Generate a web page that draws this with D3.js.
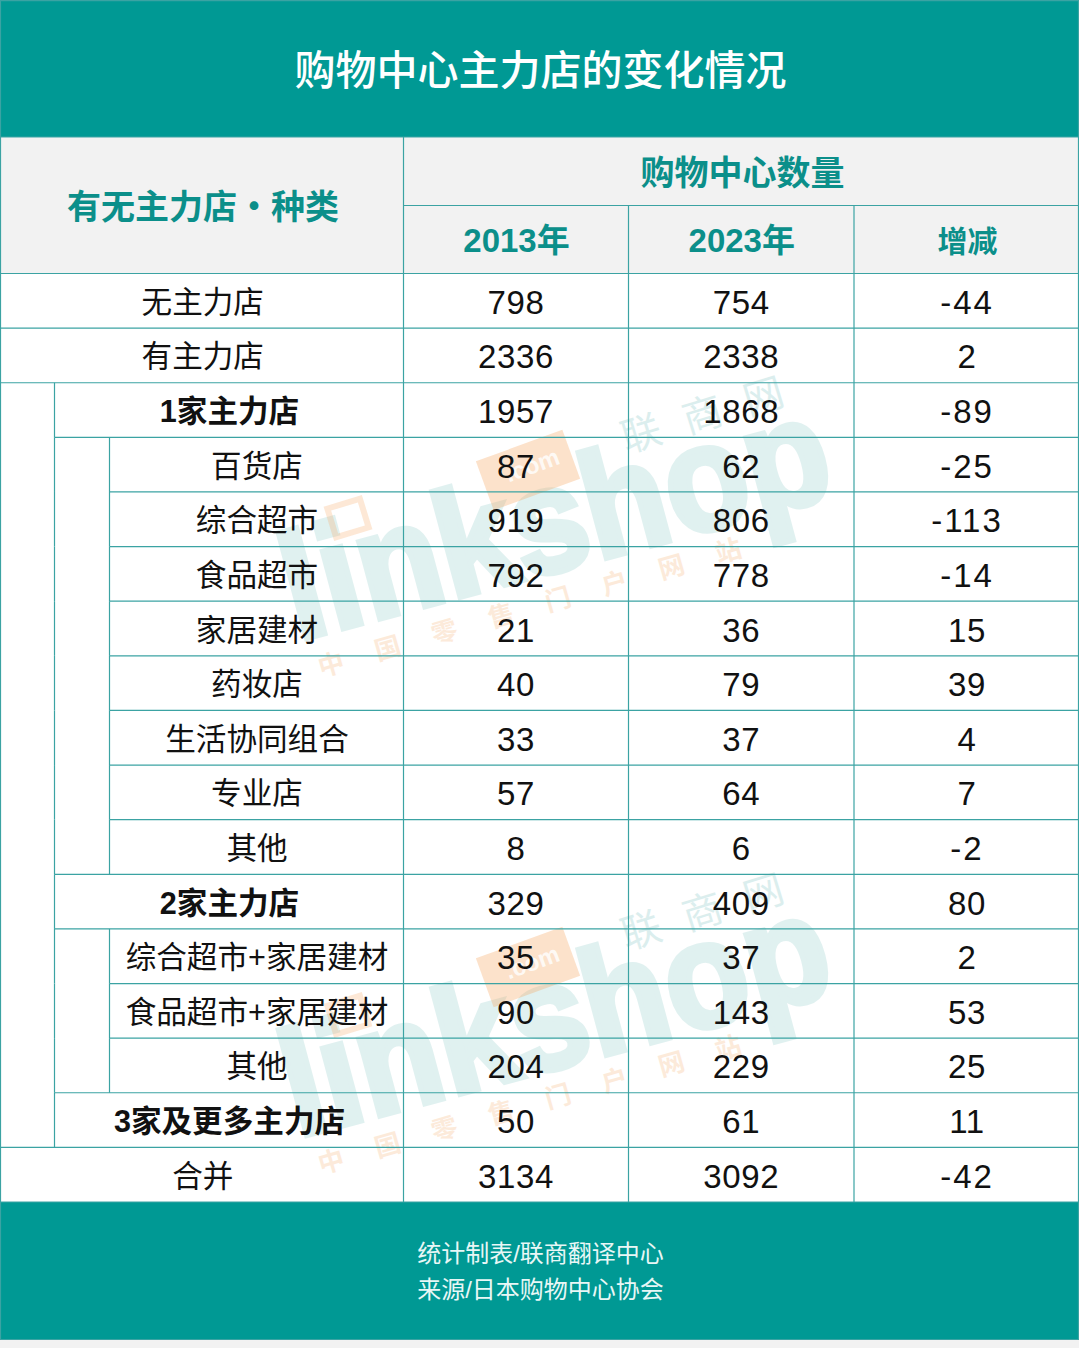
<!DOCTYPE html>
<html>
<head>
<meta charset="utf-8">
<script src="https://cdn.jsdelivr.net/npm/d3@7"></script>
<style>
  html, body { margin: 0; padding: 0; background: #fff; }
  svg { display: block; }
  text { font-family: "Liberation Sans", "Noto Sans CJK SC", sans-serif; text-anchor: middle; }
</style>
</head>
<body>
<div id="chart"></div>
<script>
var svgWidth = 1079;
var svgHeight = 1348;

var title = "购物中心主力店的变化情况";
var headLabel = "有无主力店・种类";
var headGroup = "购物中心数量";
var headCols = ["2013年", "2023年", "增减"];
var footer = ["统计制表/联商翻译中心", "来源/日本购物中心协会"];

// table rows
var labels = ["无主力店", "有主力店", "1家主力店", "百货店", "综合超市", "食品超市", "家居建材", "药妆店",
  "生活协同组合", "专业店", "其他", "2家主力店", "综合超市+家居建材", "食品超市+家居建材", "其他", "3家及更多主力店", "合并"];
var levels = [0, 0, 1, 2, 2, 2, 2, 2, 2, 2, 2, 1, 2, 2, 2, 1, 0];
var bold = ["1家主力店", "2家主力店", "3家及更多主力店"];
var y2013 = ["798", "2336", "1957", "87", "919", "792", "21", "40", "33", "57", "8", "329", "35", "90", "204", "50", "3134"];
var y2023 = ["754", "2338", "1868", "62", "806", "778", "36", "79", "37", "64", "6", "409", "37", "143", "229", "61", "3092"];
var change = ["-44", "2", "-89", "-25", "-113", "-14", "15", "39", "4", "7", "-2", "80", "2", "53", "25", "11", "-42"];

var teal = "#009994";
var headText = "#0b8f8a";
var lineColor = "#3ba3a3";
var grey = "#f2f2f2";

var svg = d3.select("#chart").append("svg")
  .attr("width", svgWidth)
  .attr("height", svgHeight);

// column edges, rows from a band scale
var colX = d3.scaleOrdinal()
  .domain(["level0", "level1", "level2", "c2013", "c2023", "cChange", "end"])
  .range([1, 54.5, 109.5, 403.5, 628.5, 854, 1078]);
var rowY = d3.scaleBand().domain(d3.range(labels.length)).range([273.5, 1202]);

var left = (l) => colX("level" + l);
var center = (a, b) => (colX(a) + colX(b)) / 2;

svg.append("rect").attr("width", svgWidth).attr("height", svgHeight).attr("fill", "#fff");

// watermark, twice
[0, 497].forEach(function (dy) {
  var wm = svg.append("g").attr("transform", `translate(0, ${dy})`);
  wm.append("text").attr("transform", "translate(568, 568) rotate(-15)")
    .attr("font-size", 150).attr("font-weight", "bold").attr("fill", "#0a8f8a")
    .attr("stroke", "#0a8f8a").attr("stroke-width", 6).attr("opacity", 0.12)
    .attr("font-family", "Liberation Sans")
    .attr("textLength", 560).attr("lengthAdjust", "spacingAndGlyphs")
    .text("linkshop");
  wm.append("rect").attr("x", -46).attr("y", -26).attr("width", 92).attr("height", 52)
    .attr("transform", "translate(528, 470) rotate(-20)")
    .attr("fill", "#f6a55c").attr("opacity", 0.32);
  wm.append("text").attr("transform", "translate(535, 473) rotate(-20)")
    .attr("font-size", 24).attr("font-weight", "bold").attr("fill", "#fff").attr("opacity", 0.8)
    .text(".com");
  wm.append("text").attr("transform", "translate(718, 425) rotate(-17)")
    .attr("font-size", 40).attr("letter-spacing", 24).attr("fill", "#0a8f8a").attr("opacity", 0.14)
    .attr("font-family", "Noto Sans CJK SC")
    .text("联商网");
  wm.append("text").attr("transform", "translate(548, 612) rotate(-16)")
    .attr("font-size", 26).attr("letter-spacing", 33).attr("font-weight", "bold").attr("fill", "#f6a55c").attr("opacity", 0.22)
    .attr("font-family", "Noto Sans CJK SC")
    .text("中国零售门户网站");
  wm.append("rect").attr("x", -17).attr("y", -15).attr("width", 34).attr("height", 30)
    .attr("transform", "translate(348, 518) rotate(-17)")
    .attr("fill", "none").attr("stroke", "#f6a55c").attr("stroke-width", 6).attr("opacity", 0.25);
});

// bands
svg.append("rect").attr("x", 0).attr("y", 0).attr("width", svgWidth).attr("height", 137).attr("fill", teal);
svg.append("rect").attr("x", 1).attr("y", 137).attr("width", svgWidth - 2).attr("height", 136.5).attr("fill", grey);
svg.append("rect").attr("x", 0).attr("y", 1202).attr("width", svgWidth).attr("height", 137.5).attr("fill", teal);
svg.append("rect").attr("x", 0).attr("y", 1339.5).attr("width", svgWidth).attr("height", 8.5).attr("fill", grey);

// grid lines
function line(x1, y1, x2, y2) {
  svg.append("line").attr("x1", x1).attr("y1", y1).attr("x2", x2).attr("y2", y2)
    .attr("stroke", lineColor).attr("stroke-width", 1.2);
}
line(colX("c2013"), 205.5, colX("end"), 205.5);
line(colX("level0"), 137, colX("end"), 137);
line(colX("level0"), 273.5, colX("end"), 273.5);
line(colX("c2013"), 137, colX("c2013"), 1202);
line(colX("c2023"), 205.5, colX("c2023"), 1202);
line(colX("cChange"), 205.5, colX("cChange"), 1202);
line(0.5, 0, 0.5, 1340);
line(1078.5, 0, 1078.5, 1340);
line(0, 0.7, svgWidth, 0.7);
line(0, 1339.5, svgWidth, 1339.5);

labels.forEach(function (d, i) {
  var top = rowY(i);
  var bottom = top + rowY.bandwidth();
  var next = i + 1 < labels.length ? levels[i + 1] : 0;
  line(left(Math.min(levels[i], next)), bottom, colX("end"), bottom);
  if (levels[i] >= 1) line(left(1), top, left(1), bottom);
  if (levels[i] === 2) line(left(2), top, left(2), bottom);
});

// text
function label(txt, x, y, size, color, weight) {
  return svg.append("text").attr("x", x).attr("y", y)
    .attr("font-size", size).attr("fill", color).attr("font-weight", weight || "normal")
    .text(txt);
}

label(title, 540.5, 85, 41, "#fff", "500").attr("font-family", "Noto Sans CJK SC");
label(headLabel, 203, 219, 34, headText, "bold").attr("font-family", "Noto Sans CJK SC");
label(headGroup, 742.5, 185, 34, headText, "bold").attr("font-family", "Noto Sans CJK SC");
var headCenters = [center("c2013", "c2023"), center("c2023", "cChange"), center("cChange", "end") + 1];
headCols.forEach(function (d, i) {
  label(d, headCenters[i] + 0.5, 252, i === 2 ? 30 : 33, headText, "600").attr("font-family", "Inter, Noto Sans CJK SC");
});

labels.forEach(function (d, i) {
  var mid = rowY(i) + rowY.bandwidth() / 2;
  var l = levels[i];
  var isBold = bold.includes(d);
  label(d, (left(l) + colX("c2013")) / 2 + 0.5, mid + 12, 30.6, "#111", isBold ? "bold" : "normal");
  [y2013[i], y2023[i], change[i]].forEach(function (v, k) {
    var negative = v.startsWith("-");
    label(v, headCenters[k], mid + 13, 33, "#111").attr("letter-spacing", negative ? 2 : 0.6);
  });
});

footer.forEach(function (d, i) {
  label(d, 540.5, 1262 + i * 35.5, 24, "#e8f7f6").attr("font-family", "Noto Sans CJK SC");
});
</script>
</body>
</html>
